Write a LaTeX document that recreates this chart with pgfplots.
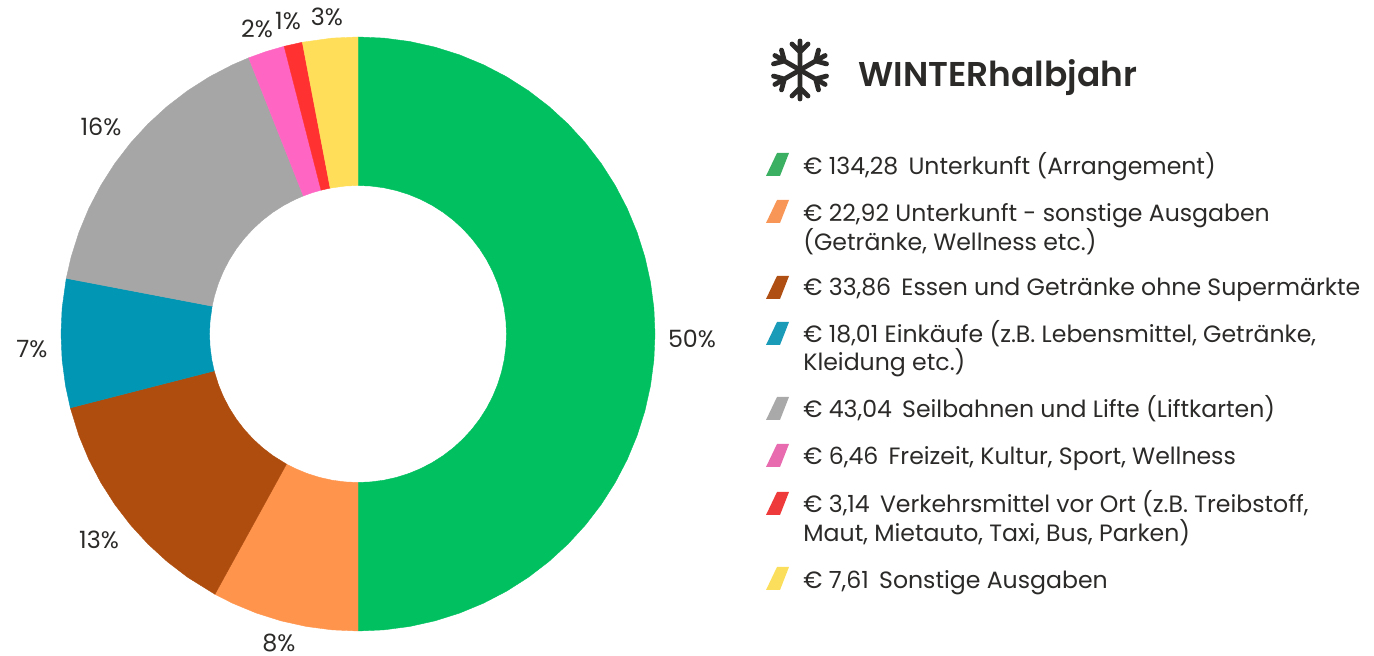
\documentclass[border=0pt]{standalone}
\usepackage{pgfplots}
\pgfplotsset{compat=1.18}
\usepackage{fontspec}
\setmainfont{Poppins}
\newfontfamily\titlefont{Poppins SemiBold}

\definecolor{txt}{HTML}{2B2A29}
\definecolor{sGreen}{HTML}{00C060}
\definecolor{sOrange}{HTML}{FF944D}
\definecolor{sBrown}{HTML}{AF4D0E}
\definecolor{sTeal}{HTML}{0096B4}
\definecolor{sGray}{HTML}{A6A6A6}
\definecolor{sPink}{HTML}{FF66C4}
\definecolor{sRed}{HTML}{FF3131}
\definecolor{sYellow}{HTML}{FFDE59}
\definecolor{kGreen}{HTML}{3CB062}
\definecolor{kOrange}{HTML}{F79656}
\definecolor{kBrown}{HTML}{AF4F14}
\definecolor{kTeal}{HTML}{1A9BB8}
\definecolor{kGray}{HTML}{A9A9A9}
\definecolor{kPink}{HTML}{E76BAE}
\definecolor{kRed}{HTML}{EE3A3A}
\definecolor{kYellow}{HTML}{FBDF5C}

% legend row: baseline y, text
\newcommand{\legtext}[2]{\node[anchor=base west,inner sep=0pt,text=txt,font=\fontsize{11.8}{14.5}\selectfont] at (803,#1+1) {#2};}
\newcommand{\legkey}[2]{\fill[#2] (766,#1+23) -- (780,#1+23) -- (789,#1) -- (777,#1) -- cycle;}
\newcommand{\pct}[3]{\node[inner sep=0pt,text=txt,font=\fontsize{11.9}{14}\selectfont] at (#1,#2) {#3};}

\begin{document}
\begin{tikzpicture}
\begin{axis}[
    at={(0,0)}, anchor=south west,
    scale only axis, width=687pt, height=328pt,
    xmin=-358, xmax=1016, ymin=-322, ymax=334,
    enlargelimits=false, hide axis,
    data cs=polar,
]
% ring slices as polygons, polar (angle, radius), clockwise from the top: 50 8 13 7 16 2 1 3 %
\addplot[fill=sGreen,draw=sGreen,line width=.2pt,no markers] coordinates {
 (90,297) (85,297) (80,297) (75,297) (70,297) (65,297) (60,297) (55,297) (50,297) (45,297) (40,297) (35,297) (30,297) (25,297) (20,297) (15,297) (10,297) (5,297) (0,297) (-5,297) (-10,297) (-15,297) (-20,297) (-25,297) (-30,297) (-35,297) (-40,297) (-45,297) (-50,297) (-55,297) (-60,297) (-65,297) (-70,297) (-75,297) (-80,297) (-85,297) (-90,297)
 (-90,148.5) (-85,148.5) (-80,148.5) (-75,148.5) (-70,148.5) (-65,148.5) (-60,148.5) (-55,148.5) (-50,148.5) (-45,148.5) (-40,148.5) (-35,148.5) (-30,148.5) (-25,148.5) (-20,148.5) (-15,148.5) (-10,148.5) (-5,148.5) (0,148.5) (5,148.5) (10,148.5) (15,148.5) (20,148.5) (25,148.5) (30,148.5) (35,148.5) (40,148.5) (45,148.5) (50,148.5) (55,148.5) (60,148.5) (65,148.5) (70,148.5) (75,148.5) (80,148.5) (85,148.5) (90,148.5)} -- cycle;
\addplot[fill=sOrange,draw=sOrange,line width=.2pt,no markers] coordinates {
 (-90,297) (-95,297) (-100,297) (-105,297) (-110,297) (-115,297) (-118.8,297)
 (-118.8,148.5) (-115,148.5) (-110,148.5) (-105,148.5) (-100,148.5) (-95,148.5) (-90,148.5)} -- cycle;
\addplot[fill=sBrown,draw=sBrown,line width=.2pt,no markers] coordinates {
 (-118.8,297) (-125,297) (-130,297) (-135,297) (-140,297) (-145,297) (-150,297) (-155,297) (-160,297) (-165.6,297)
 (-165.6,148.5) (-160,148.5) (-155,148.5) (-150,148.5) (-145,148.5) (-140,148.5) (-135,148.5) (-130,148.5) (-125,148.5) (-118.8,148.5)} -- cycle;
\addplot[fill=sTeal,draw=sTeal,line width=.2pt,no markers] coordinates {
 (-165.6,297) (-170,297) (-175,297) (-180,297) (-185,297) (-190.8,297)
 (-190.8,148.5) (-185,148.5) (-180,148.5) (-175,148.5) (-170,148.5) (-165.6,148.5)} -- cycle;
\addplot[fill=sGray,draw=sGray,line width=.2pt,no markers] coordinates {
 (-190.8,297) (-195,297) (-200,297) (-205,297) (-210,297) (-215,297) (-220,297) (-225,297) (-230,297) (-235,297) (-240,297) (-245,297) (-248.4,297)
 (-248.4,148.5) (-245,148.5) (-240,148.5) (-235,148.5) (-230,148.5) (-225,148.5) (-220,148.5) (-215,148.5) (-210,148.5) (-205,148.5) (-200,148.5) (-195,148.5) (-190.8,148.5)} -- cycle;
\addplot[fill=sPink,draw=sPink,line width=.2pt,no markers] coordinates {
 (-248.4,297) (-252,297) (-255.6,297) (-255.6,148.5) (-252,148.5) (-248.4,148.5)} -- cycle;
\addplot[fill=sRed,draw=sRed,line width=.2pt,no markers] coordinates {
 (-255.6,297) (-259.2,297) (-259.2,148.5) (-255.6,148.5)} -- cycle;
\addplot[fill=sYellow,draw=sYellow,line width=.2pt,no markers] coordinates {
 (-259.2,297) (-265,297) (-270,297) (-270,148.5) (-265,148.5) (-259.2,148.5)} -- cycle;
\end{axis}

% everything below in reference pixels
\begin{scope}[shift={(0,328pt)},x=0.5pt,y=-0.5pt]
\path[use as bounding box] (0,0) rectangle (1374,656);
\pct{692}{339}{50\%}
\pct{279}{643}{8\%}
\pct{99}{540}{13\%}
\pct{32}{349}{7\%}
\pct{101}{127}{16\%}
\pct{257}{29}{2\%}
\pct{288}{21}{1\%}
\pct{327}{17}{3\%}

\node[anchor=base west,inner sep=0pt,text=txt,font=\titlefont\fontsize{17.2}{20}\selectfont] at (858,87) {WINTERhalbjahr};

% snowflake
\begin{scope}[shift={(800,70)},draw=txt,line width=2.4pt,line cap=round,line join=round]
\foreach \a in {0,60,...,300}{
  \draw[rotate=\a] (0,0) -- (0,-29) (-8,-26) -- (0,-18) -- (8,-26);
}
\end{scope}

\legkey{153}{kGreen}   \legtext{174}{€ 134,28\, Unterkunft (Arrangement)}
\legkey{200}{kOrange}  \legtext{221}{€ 22,92 Unterkunft - sonstige Ausgaben}
                       \legtext{250}{(Getränke, Wellness etc.)}
\legkey{276}{kBrown}   \legtext{295}{€ 33,86\, Essen und Getränke ohne Supermärkte}
\legkey{322}{kTeal}    \legtext{342}{€ 18,01 Einkäufe (z.B. Lebensmittel, Getränke,}
                       \legtext{370}{Kleidung etc.)}
\legkey{397}{kGray}    \legtext{417}{€ 43,04\, Seilbahnen und Lifte (Liftkarten)}
\legkey{444}{kPink}    \legtext{464}{€ 6,46\, Freizeit, Kultur, Sport, Wellness}
\legkey{492}{kRed}     \legtext{512}{€ 3,14\, Verkehrsmittel vor Ort (z.B. Treibstoff,}
                       \legtext{541}{Maut, Mietauto, Taxi, Bus, Parken)}
\legkey{567}{kYellow}  \legtext{588}{€ 7,61\, Sonstige Ausgaben}
\end{scope}
\end{tikzpicture}
\end{document}
